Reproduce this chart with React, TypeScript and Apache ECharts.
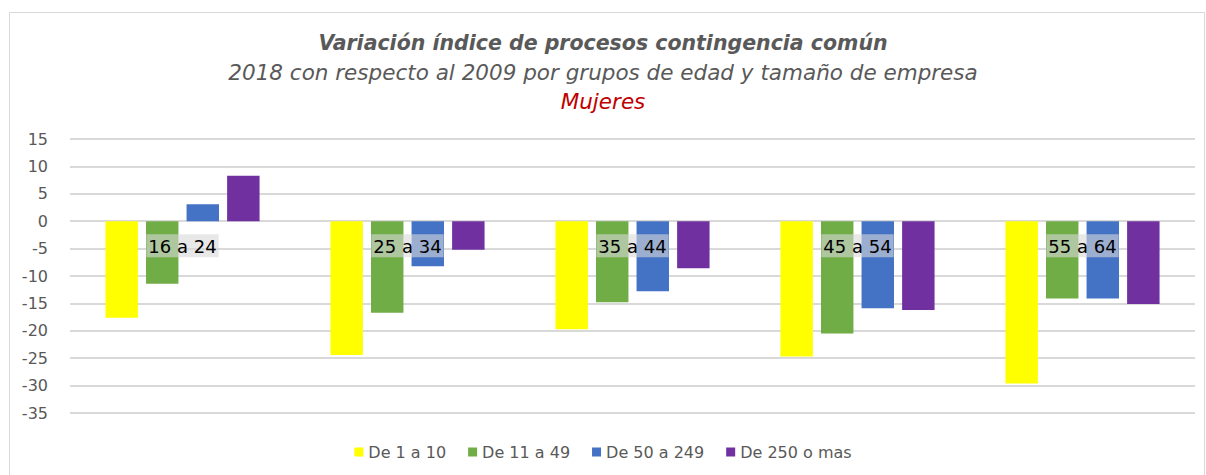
import React, { useEffect, useRef } from "react";
import * as echarts from "echarts";

const categories = ["16 a 24", "25 a 34", "35 a 44", "45 a 54", "55 a 64"];
const seriesNames = ["De 1 a 10", "De 11 a 49", "De 50 a 249", "De 250 o mas"];
const de1a10 = [-17.6, -24.4, -19.7, -24.7, -29.6];
const de11a49 = [-11.4, -16.7, -14.8, -20.5, -14.1];
const de50a249 = [3.1, -8.2, -12.8, -15.9, -14.1];
const de250omas = [8.3, -5.2, -8.6, -16.2, -15.1];
const colors = ["#FFFF00", "#70AD47", "#4472C4", "#7030A0"];
const yMin = -35;
const yMax = 15;
const yStep = 5;

export default function App() {
  const ref = useRef<HTMLDivElement>(null);
  useEffect(() => {
    if (!ref.current) return;
    const chart = echarts.init(ref.current, null, { renderer: "svg" });
    const values = [de1a10, de11a49, de50a249, de250omas];
    const gridTop = 139;
    const gridBottom = 62;
    const plotH = 475 - gridTop - gridBottom;
    const zeroOffset = -plotH * (0 - yMin) / (yMax - yMin);
    chart.setOption({
      animation: false,
      textStyle: { fontFamily: "DejaVu Sans" },
      title: {
        left: "center",
        top: 23,
        text:
          "{a|Variación índice de procesos contingencia común}\n{b|2018 con respecto al 2009 por grupos de edad y tamaño de empresa}\n{c|Mujeres}",
        textStyle: {
          rich: {
            a: { fontFamily: "DejaVu Sans", fontSize: 20.5, fontStyle: "italic", fontWeight: "bold", color: "#595959", lineHeight: 29.5 },
            b: { fontFamily: "DejaVu Sans", fontSize: 21.5, fontStyle: "italic", fontWeight: "normal", color: "#595959", lineHeight: 29.5 },
            c: { fontFamily: "DejaVu Sans", fontSize: 21.5, fontStyle: "italic", fontWeight: "normal", color: "#C00000", lineHeight: 29.5 },
          },
        },
      },
      graphic: [
        {
          type: "rect",
          shape: { x: 9.5, y: 12.5, width: 1195, height: 470 },
          style: { fill: "none", stroke: "#D9D9D9", lineWidth: 1 },
          silent: true,
          z: -10,
        },
      ],
      legend: {
        bottom: 10,
        left: "center",
        itemWidth: 9,
        itemHeight: 9,
        itemGap: 22,
        icon: "rect",
        textStyle: { fontSize: 16, color: "#595959", fontFamily: "DejaVu Sans" },
        data: seriesNames,
      },
      grid: { left: 70, right: 11, top: gridTop, bottom: gridBottom },
      xAxis: {
        type: "category",
        data: categories,
        z: 10,
        offset: zeroOffset,
        axisLine: { show: false },
        axisTick: { show: false },
        axisLabel: {
          margin: 13,
          fontSize: 18,
          color: "#000000",
          fontFamily: "DejaVu Sans",
          backgroundColor: "rgba(217,217,217,0.6)",
          padding: [3, 2, 2, 2],
        },
      },
      yAxis: {
        type: "value",
        min: yMin,
        max: yMax,
        interval: yStep,
        axisLine: { show: false },
        axisTick: { show: false },
        axisLabel: { fontSize: 16, color: "#595959", margin: 22, fontFamily: "DejaVu Sans" },
        splitLine: { lineStyle: { color: "#D9D9D9", width: 2 } },
      },
      series: seriesNames.map((name, i) => ({
        name,
        type: "bar",
        data: values[i],
        barGap: "25%",
        barCategoryGap: "31.5%",
        itemStyle: { color: colors[i] },
      })),
    });
    return () => chart.dispose();
  }, []);
  return (
    <div
      ref={ref}
      style={{ position: "absolute", left: 0, top: 0, width: 1206, height: 475, background: "#fff" }}
    />
  );
}
